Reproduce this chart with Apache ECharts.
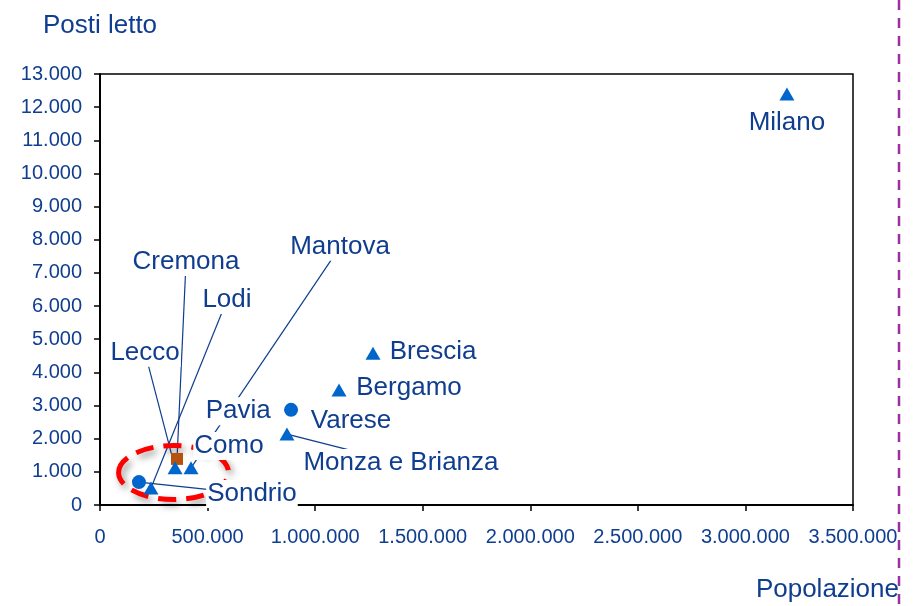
<!DOCTYPE html>
<html>
<head>
<meta charset="utf-8">
<title>Posti letto / Popolazione</title>
<script src="https://cdn.jsdelivr.net/npm/echarts@6/dist/echarts.min.js"></script>
<style>
  html, body { margin: 0; padding: 0; background: #fff; }
  #chart { width: 915px; height: 606px; }
</style>
</head>
<body>
<div id="chart"></div>
<script>
  // dati
  const province = ['Milano', 'Brescia', 'Bergamo', 'Varese', 'Monza e Brianza', 'Como',
    'Pavia', 'Mantova', 'Cremona', 'Lodi', 'Lecco', 'Sondrio'];
  const popolazione = [3193000, 1269000, 1111000, 888000, 869000, 590000,
    540000, 423000, 358000, 237000, 349000, 181000];
  const postiLetto = [12400, 4580, 3470, 2870, 2140, 1900,
    2800, 1120, 1390, 510, 1120, 690];
  const classe = ['A', 'A', 'A', 'B', 'A', 'A', 'A', 'A', 'C', 'A', 'A', 'B'];

  const xTicks = [0, 500000, 1000000, 1500000, 2000000, 2500000, 3000000, 3500000];
  const yTicks = [0, 1000, 2000, 3000, 4000, 5000, 6000, 7000, 8000, 9000, 10000, 11000, 12000, 13000];

  const navy = '#0F3D8F';

  /* forma e colore per classe */
  const markerStyle = {
    A: {symbol: 'triangle', size: [15, 13], color: '#0066CC'},
    B: {symbol: 'circle', size: 14, color: '#0066CC'},
    C: {symbol: 'rect', size: 12, color: '#B5520F'}
  };

  /* spostamento etichette (px) e presenza della linea guida */
  const labelShift = {
    'Milano': [0, 29, false],
    'Brescia': [60, -1, false],
    'Bergamo': [70, -2, false],
    'Varese': [60, 11, false],
    'Monza e Brianza': [114, 29, true],
    'Como': [2, 4, false],
    'Pavia': [22, -1, false],
    'Mantova': [149, -221, true],
    'Cremona': [9, -197, true],
    'Lodi': [76, -188, true],
    'Lecco': [-30, -115, true],
    'Sondrio': [113, 12, true]
  };

  function fmt(v) {
    return String(v).replace(/\B(?=(\d{3})+(?!\d))/g, '.');
  }

  let seriesData = [], guideData = [];
  province.forEach(function (nome, i) {
    let st = markerStyle[classe[i]];
    seriesData.push({
      name: nome,
      value: [popolazione[i], postiLetto[i]],
      symbol: st.symbol,
      symbolSize: st.size,
      itemStyle: {color: st.color}
    });
    let s = labelShift[nome];
    if (s[2]) {
      guideData.push([popolazione[i], postiLetto[i], s[0], s[1]]);
    }
  });

  let chart = echarts.init(document.getElementById('chart'));

  chart.setOption({
    animation: false,
    textStyle: {fontFamily: '"Liberation Sans", Arial, sans-serif'},
    grid: {
      left: 100, right: 62, top: 74, bottom: 101,
      show: true, borderColor: '#000', borderWidth: 1.5,
      outerBoundsMode: 'none'
    },
    xAxis: {
      type: 'value',
      min: xTicks[0], max: xTicks[xTicks.length - 1], interval: 500000,
      name: 'Popolazione',
      nameLocation: 'end',
      nameGap: 46,
      nameTextStyle: {
        color: navy, fontSize: 26, align: 'right', verticalAlign: 'top',
        padding: [72, 0, 0, 0]
      },
      axisLine: {show: true, onZero: false, lineStyle: {color: '#000', width: 2}},
      axisTick: {show: true, inside: false, length: 6, lineStyle: {color: '#000', width: 1.5}},
      axisLabel: {color: navy, fontSize: 20, margin: 22, formatter: fmt, showMaxLabel: true},
      splitLine: {show: false}
    },
    yAxis: {
      type: 'value',
      min: yTicks[0], max: yTicks[yTicks.length - 1], interval: 1000,
      name: 'Posti letto',
      nameLocation: 'end',
      nameGap: 35,
      nameTextStyle: {color: navy, fontSize: 26, align: 'center'},
      axisLine: {show: true, onZero: false, lineStyle: {color: '#000', width: 2}},
      axisTick: {show: true, inside: false, length: 6, lineStyle: {color: '#000', width: 1.5}},
      axisLabel: {color: navy, fontSize: 20, margin: 18, formatter: fmt},
      splitLine: {show: false}
    },
    series: [
      {
        /* linee guida: dal punto verso il centro dell'etichetta, coperte dallo sfondo bianco */
        type: 'custom',
        z: 1,
        silent: true,
        data: guideData,
        renderItem: function (params, api) {
          let p = api.coord([api.value(0), api.value(1)]);
          return {
            type: 'line',
            shape: {x1: p[0], y1: p[1], x2: p[0] + api.value(2), y2: p[1] + api.value(3)},
            style: {stroke: navy, lineWidth: 1.2}
          };
        }
      },
      {
        type: 'scatter',
        z: 3,
        data: seriesData,
        itemStyle: {opacity: 1},
        label: {
          show: true,
          position: 'inside',
          formatter: '{b}',
          color: navy,
          opacity: 1,
          fontSize: 26,
          backgroundColor: '#fff',
          padding: [1, 1]
        },
        labelLayout: function (params) {
          let s = labelShift[province[params.dataIndex]];
          return {dx: s[0], dy: s[1]};
        },
        emphasis: {disabled: true}
      }
    ]
  });

  /* ellisse tratteggiata attorno al gruppo di province piccole */
  let c = chart.convertToPixel({gridIndex: 0}, [342000, 980]);
  chart.setOption({
    graphic: [
      {
        type: 'ellipse',
        z: 1,
        shape: {cx: c[0], cy: c[1], rx: 55, ry: 27},
        style: {
          fill: 'none', stroke: '#FF0000', lineWidth: 5, lineDash: [18, 10],
          shadowBlur: 7, shadowColor: 'rgba(0,0,0,0.4)', shadowOffsetX: 3, shadowOffsetY: 4
        },
        silent: true
      },
      {
        type: 'line',
        shape: {x1: 899, y1: 0, x2: 899, y2: 606},
        style: {stroke: '#9B30A0', lineWidth: 2.5, lineDash: [10, 8]},
        silent: true
      }
    ]
  });
</script>
</body>
</html>
